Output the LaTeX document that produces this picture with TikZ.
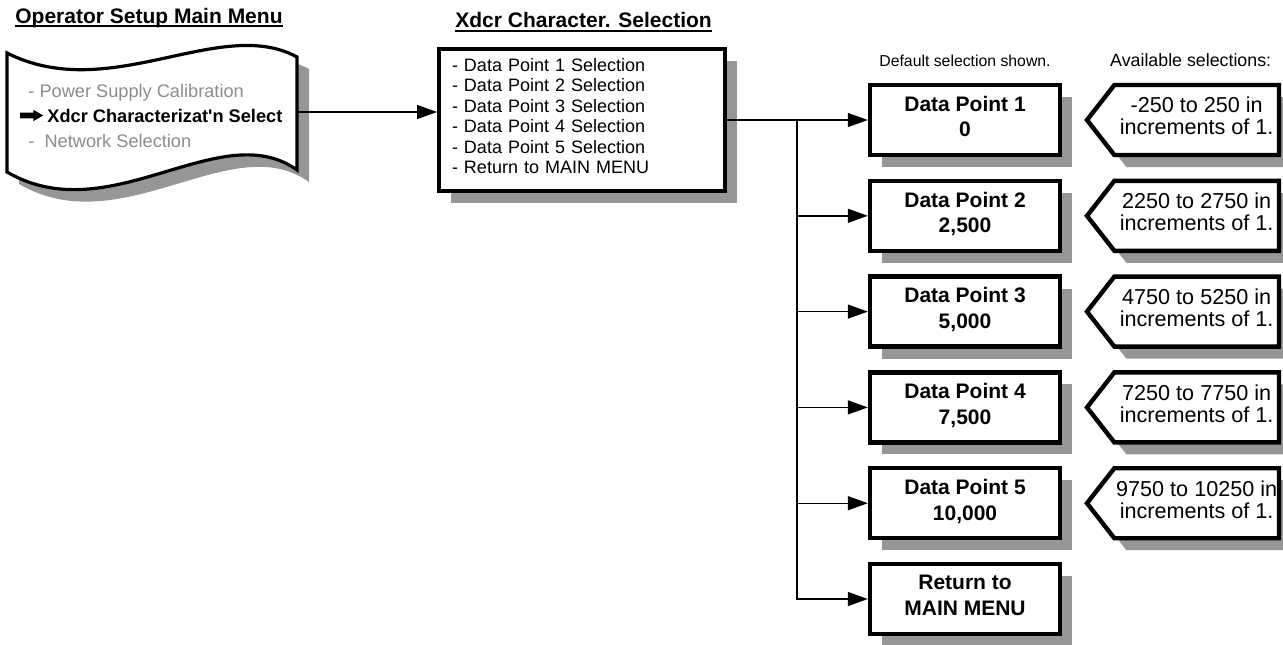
\documentclass[tikz,border=0pt]{standalone}
\usepackage{fontspec}
\setmainfont{Liberation Sans}
\usetikzlibrary{positioning, shapes.symbols, shapes.arrows, arrows.meta, shadows}
\definecolor{shadowgray}{RGB}{150,150,150}
\definecolor{menugray}{RGB}{140,140,140}
\tikzset{
  shade box/.style={drop shadow={shadow xshift=6pt, shadow yshift=-6pt, fill=shadowgray, opacity=1}},
  arrow/.style={line width=0.7pt, -{Triangle[length=10pt, width=7pt]}}}

\begin{document}
\begin{tikzpicture}[
		x=0.5pt, y=-0.5pt,
		node distance=10.7pt and 11pt,
		heading/.style={
			font=\bfseries\fontsize{10.5}{12}\selectfont,
			inner sep=0pt,
			anchor=base west
		},
		menuitem/.style={
			font=\fontsize{9.1}{10}\selectfont,
			text=menugray,
			inner sep=0pt,
			anchor=base west
		},
		listbox/.style={
			draw,
			fill=white,
			line width=2pt,
			shade box,
			align=left,
			text width=130pt,
			inner xsep=6.5pt,
			minimum height=71pt,
			text height=6.5pt,
			text depth=55.5pt,
			font=\fontsize{9}{10.25}\selectfont
		},
		pointbox/.style={
			draw,
			fill=white,
			line width=2.2pt,
			shade box,
			align=center,
			minimum width=95pt,
			minimum height=35pt,
			text depth=3.5pt,
			font=\bfseries\fontsize{10.5}{12.85}\selectfont
		},
		rangebox/.style={
			shape=signal,
			signal to=west,
			signal from=nowhere,
			signal pointer angle=104,
			draw,
			fill=white,
			line width=2.2pt,
			shade box,
			align=center,
			inner xsep=0pt,
			minimum width=96pt,
			minimum height=35pt,
			text depth=4pt,
			font=\fontsize{10.8}{11}\selectfont
		},
		note/.style={
			font=\fontsize{7.9}{9.5}\selectfont,
			inner sep=0pt
		}
		]
		
		\useasboundingbox (0,0) rectangle (1283,644);
		
		\node[heading] (maintitle) at (15,23) {Operator Setup Main Menu};
		\draw[line width=0.9pt] ([yshift=-1.6pt]maintitle.base west) -- ([yshift=-1.6pt]maintitle.base east);
		
		\filldraw[fill=white, line width=1.6pt, shade box] (7,53) .. controls (110,105) and (220,15) .. (297,57)
			-- (297,170) .. controls (220,115) and (110,232) .. (7,172) -- cycle;
		\coordinate (tapeout) at (297,112);
		
		\node[menuitem] (psc) at (28,97) {- Power Supply Calibration};
		\node[menuitem, text=black, font=\bfseries\fontsize{9.1}{10}\selectfont] (xcs) at (47,122) {Xdcr Characterizat\textquotesingle n Select};
		\node[menuitem] (nws) at (28,147) {-~~Network Selection};
		\node[single arrow, fill=black, inner sep=1.25pt, single arrow head extend=1.4pt,
			single arrow tip angle=60, minimum height=11.5pt, left=1.5pt of xcs] (selarrow) {};
		
		\node[listbox] (xsel) at (582,120) {- Data Point 1 Selection\\- Data Point 2 Selection\\- Data Point 3 Selection\\- Data Point 4 Selection\\- Data Point 5 Selection\\- Return to MAIN MENU};
		\node[heading] (xseltitle) at (455,27) {Xdcr Character. Selection};
		\draw[line width=0.9pt] ([yshift=-1.9pt]xseltitle.base west) -- ([yshift=-1.9pt]xseltitle.base east);
		
		\node[pointbox] (dp1) at (965,120) {Data Point 1\\0};
		\node[pointbox, below=of dp1] (dp2) {Data Point 2\\2,500};
		\node[pointbox, below=of dp2] (dp3) {Data Point 3\\5,000};
		\node[pointbox, below=of dp3] (dp4) {Data Point 4\\7,500};
		\node[pointbox, below=of dp4] (dp5) {Data Point 5\\10,000};
		\node[pointbox, below=of dp5] (back) {Return to\\MAIN MENU};
		
		\node[rangebox, right=of dp1] (r1) {-250 to 250 in\\increments of 1.};
		\node[rangebox, right=of dp2] (r2) {2250 to 2750 in\\increments of 1.};
		\node[rangebox, right=of dp3] (r3) {4750 to 5250 in\\increments of 1.};
		\node[rangebox, right=of dp4] (r4) {7250 to 7750 in\\increments of 1.};
		\node[rangebox, right=of dp5] (r5) {9750 to 10250 in\\increments of 1.};
		
		\node[note, above=8pt of dp1] (defnote) {Default selection shown.};
		\node[note, font=\fontsize{8.9}{10}\selectfont, above=8pt of r1, xshift=-3pt] (availnote) {Available selections:};
		
		\coordinate[right=35pt of xsel.east] (trunk);
		
		\draw[arrow] (tapeout) -- (tapeout -| xsel.west);
		\draw[arrow] (xsel.east) -- (dp1.west);
		\draw[arrow] (trunk) |- (dp2.west);
		\draw[arrow] (trunk) |- (dp3.west);
		\draw[arrow] (trunk) |- (dp4.west);
		\draw[arrow] (trunk) |- (dp5.west);
		\draw[arrow] (trunk) |- (back.west);
		
	\end{tikzpicture}
\end{document}
